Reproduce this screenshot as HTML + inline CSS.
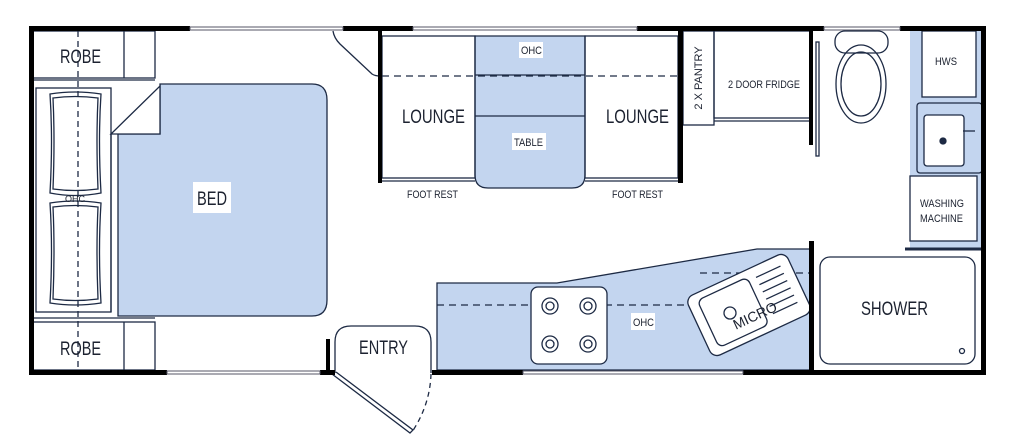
<!DOCTYPE html>
<html><head><style>
html,body{margin:0;padding:0;background:#fff;}
svg{display:block;}
text{font-family:"Liberation Sans",sans-serif;fill:#1c2230;}
</style></head><body>
<svg width="1024" height="447" viewBox="0 0 1024 447" xmlns="http://www.w3.org/2000/svg">
<g stroke="#1d2a44" stroke-width="1.3" fill="none">
<path d="M160,84 H312 Q327,84 327,100 V300 Q327,316 312,316 H118 V134 H160 Z" fill="#c3d5ef"/>
<path d="M111,134 L160,86 V134 Z" fill="#fff"/>
<line x1="111" y1="134" x2="111" y2="312"/>
<rect x="36" y="88" width="75" height="224"/>
<line x1="33" y1="80" x2="155" y2="80"/>
<line x1="33" y1="318" x2="155" y2="318"/>
<rect x="33" y="31" width="122" height="47"/>
<line x1="124" y1="31" x2="124" y2="78"/>
<rect x="33" y="322" width="122" height="48"/>
<line x1="124" y1="322" x2="124" y2="370"/>
<path d="M50,94 Q75,90 101,94 Q98,140 101,193 Q75,198 50,193 Q53,140 50,94 Z"/>
<path d="M53,98 Q75,95 98,98 Q96,140 98,189 Q75,192 53,189 Q55,140 53,98 Z"/>
<path d="M50,203 Q75,199 101,203 Q98,250 101,303 Q75,307 50,303 Q53,250 50,203 Z"/>
<path d="M53,207 Q75,204 98,207 Q96,250 98,299 Q75,302 53,299 Q55,250 53,207 Z"/>
<line x1="78" y1="31" x2="78" y2="370" stroke-dasharray="6,4"/>
<path d="M475,36 H585 V175 Q585,188 572,188 H488 Q475,188 475,175 Z" fill="#c3d5ef"/>
<line x1="475" y1="75" x2="585" y2="75"/>
<line x1="475" y1="116" x2="585" y2="116"/>
<rect x="382" y="36" width="93" height="142"/>
<rect x="585" y="36" width="93" height="142"/>
<line x1="382" y1="181" x2="475" y2="181"/>
<line x1="585" y1="181" x2="678" y2="181"/>
<line x1="382" y1="76" x2="680" y2="76" stroke-dasharray="7,5"/>
<path d="M333,31 Q334,38 340,44 L372,74 Q375,76 380,76"/>
<rect x="683" y="31" width="31" height="94"/>
<rect x="714" y="31" width="96" height="87"/>
<line x1="714" y1="121" x2="810" y2="121"/>
<rect x="816" y="42" width="3" height="114"/>
<rect x="835" y="31" width="53" height="22" rx="10"/>
<ellipse cx="861" cy="84" rx="25" ry="39"/>
<ellipse cx="861" cy="84" rx="20" ry="32"/>
<rect x="910" y="31" width="72" height="217" fill="#c3d5ef" stroke="none"/>
<rect x="922" y="31" width="54" height="66" fill="#fff"/>
<rect x="917" y="103" width="65" height="70" rx="3"/>
<rect x="924" y="115" width="40" height="51" rx="3" fill="#fff"/>
<circle cx="943" cy="141" r="3" fill="#1d2a44"/>
<line x1="963" y1="131" x2="975" y2="131"/>
<rect x="910" y="176" width="67" height="65" fill="#fff"/>
<line x1="905" y1="249" x2="985" y2="249" stroke-width="3"/>
<rect x="820" y="257" width="155" height="107" rx="10"/>
<circle cx="962" cy="351" r="2.5"/>
<path d="M437,283 H557 L757,249 H810 V370 H437 Z" fill="#c3d5ef"/>
<line x1="437" y1="305" x2="700" y2="305" stroke-dasharray="7,5"/>
<line x1="700" y1="273" x2="810" y2="273" stroke-dasharray="7,5"/>
<rect x="531" y="287" width="76" height="77" rx="7" fill="#fff"/>
<circle cx="550" cy="306" r="8"/><circle cx="550" cy="306" r="4"/>
<circle cx="588" cy="306" r="8"/><circle cx="588" cy="306" r="4"/>
<circle cx="550" cy="344" r="8"/><circle cx="550" cy="344" r="4"/>
<circle cx="588" cy="344" r="8"/><circle cx="588" cy="344" r="4"/>
<g transform="translate(749,305) rotate(-25)">
<rect x="-55" y="-33" width="110" height="66" rx="8" fill="#fff"/>
<rect x="-45" y="-26" width="55" height="52" rx="6"/>
<line x1="18" y1="-22" x2="45" y2="-22"/><line x1="18" y1="-14" x2="45" y2="-14"/>
<line x1="18" y1="-6" x2="45" y2="-6"/><line x1="18" y1="2" x2="45" y2="2"/>
<line x1="18" y1="10" x2="45" y2="10"/><line x1="18" y1="18" x2="45" y2="18"/>
</g>
<circle cx="730" cy="313" r="6"/>
<path d="M335,373 V342 Q335,326 351,326 H415 Q431,326 431,342 V373" fill="#fff"/>
<path d="M332,374 L410,433 L413,430 L336,372" />
<path d="M431,374 Q430,405 412,432" stroke-dasharray="5,4"/>
</g>
<g fill="#000">
<rect x="29" y="26" width="161" height="5"/>
<rect x="343" y="26" width="70" height="5"/>
<rect x="637" y="26" width="187" height="5"/>
<rect x="900" y="26" width="85" height="5"/>
<rect x="29" y="26" width="5" height="349"/>
<rect x="981" y="26" width="5" height="349"/>
<rect x="29" y="370" width="138" height="5"/>
<rect x="320" y="370" width="15" height="5"/>
<rect x="326" y="339" width="4" height="36"/>
<rect x="432" y="370" width="91" height="5"/>
<rect x="743" y="370" width="243" height="5"/>
<rect x="378" y="28" width="4" height="155"/>
<rect x="678" y="28" width="5" height="155"/>
<rect x="809" y="28" width="4" height="117"/>
<rect x="809" y="241" width="5" height="134"/>
</g>
<g stroke="#556" stroke-width="1" fill="none">
<rect x="190" y="27" width="153" height="3"/>
<rect x="413" y="27" width="224" height="3"/>
<rect x="824" y="27" width="76" height="3"/>
<rect x="167" y="371" width="153" height="3"/>
<rect x="523" y="371" width="220" height="3"/>
</g>
<rect x="193" y="182" width="38" height="31" fill="#fff"/>
<text x="197" y="205" font-size="19" textLength="30" lengthAdjust="spacingAndGlyphs">BED</text>
<text x="60" y="63" font-size="19" textLength="41" lengthAdjust="spacingAndGlyphs">ROBE</text>
<text x="60" y="355" font-size="19" textLength="41" lengthAdjust="spacingAndGlyphs">ROBE</text>
<text x="402" y="123" font-size="19" textLength="63" lengthAdjust="spacingAndGlyphs">LOUNGE</text>
<text x="606" y="123" font-size="19" textLength="63" lengthAdjust="spacingAndGlyphs">LOUNGE</text>
<rect x="519" y="42" width="24" height="16" fill="#fff"/>
<text x="521" y="54" font-size="11" textLength="21" lengthAdjust="spacingAndGlyphs">OHC</text>
<rect x="512" y="133" width="34" height="17" fill="#fff"/>
<text x="514" y="146" font-size="11" textLength="29" lengthAdjust="spacingAndGlyphs">TABLE</text>
<text x="407" y="198" font-size="11" textLength="51" lengthAdjust="spacingAndGlyphs">FOOT REST</text>
<text x="612" y="198" font-size="11" textLength="51" lengthAdjust="spacingAndGlyphs">FOOT REST</text>
<text x="728" y="88" font-size="11" textLength="72" lengthAdjust="spacingAndGlyphs">2 DOOR FRIDGE</text>
<text transform="translate(702,78) rotate(-90)" font-size="11" text-anchor="middle">2 X PANTRY</text>
<text x="935" y="65" font-size="11" textLength="22" lengthAdjust="spacingAndGlyphs">HWS</text>
<text x="920" y="207" font-size="11" textLength="44" lengthAdjust="spacingAndGlyphs">WASHING</text>
<text x="920" y="222" font-size="11" textLength="43" lengthAdjust="spacingAndGlyphs">MACHINE</text>
<text x="861" y="315" font-size="19" textLength="67" lengthAdjust="spacingAndGlyphs">SHOWER</text>
<text x="359" y="354" font-size="19" textLength="49" lengthAdjust="spacingAndGlyphs">ENTRY</text>
<rect x="631" y="313" width="24" height="17" fill="#fff"/>
<text x="633" y="326" font-size="11" textLength="21" lengthAdjust="spacingAndGlyphs">OHC</text>
<text transform="translate(757,320) rotate(-25)" font-size="14" text-anchor="middle">MICRO</text>
<text x="75" y="202" font-size="9" text-anchor="middle" fill="#8899bb">OHC</text>
</svg>
</body></html>
